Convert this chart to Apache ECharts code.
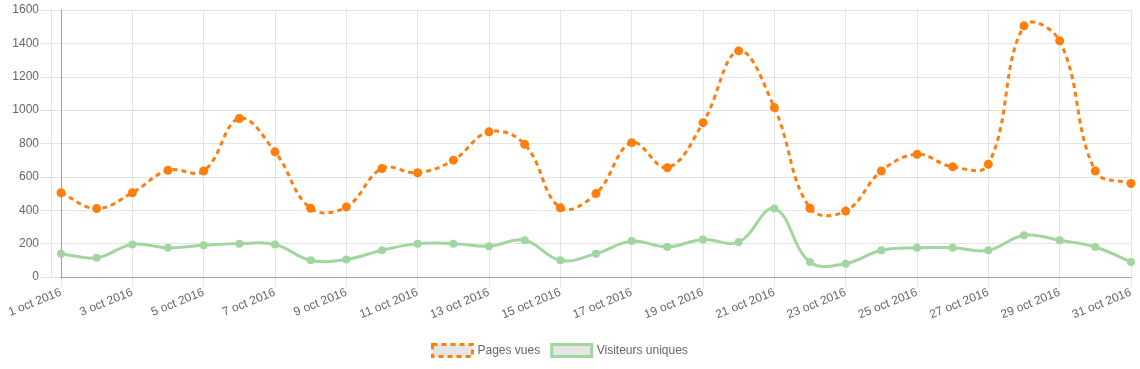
<!DOCTYPE html>
<html>
<head>
<meta charset="utf-8">
<script src="https://cdn.jsdelivr.net/npm/echarts@6/dist/echarts.min.js"></script>
<style>
html,body{margin:0;padding:0;background:#fff;}
#chart{width:1140px;height:369px;}
</style>
</head>
<body>
<div id="chart"></div>
<script>
const categories = [
  '1 oct 2016','2 oct 2016','3 oct 2016','4 oct 2016','5 oct 2016','6 oct 2016','7 oct 2016','8 oct 2016',
  '9 oct 2016','10 oct 2016','11 oct 2016','12 oct 2016','13 oct 2016','14 oct 2016','15 oct 2016','16 oct 2016',
  '17 oct 2016','18 oct 2016','19 oct 2016','20 oct 2016','21 oct 2016','22 oct 2016','23 oct 2016','24 oct 2016',
  '25 oct 2016','26 oct 2016','27 oct 2016','28 oct 2016','29 oct 2016','30 oct 2016','31 oct 2016'
];
const pagesVues = [505,410,505,640,635,950,750,412,420,650,625,700,870,795,415,500,805,655,925,1355,1015,412,395,635,735,660,675,1505,1415,635,560];
const visiteursUniques = [140,115,195,175,190,200,195,100,105,160,200,200,185,220,100,140,215,180,225,210,410,90,80,160,175,175,160,250,220,180,90];
const seriesNames = ['Pages vues','Visiteurs uniques'];
const yMin = 0, yMax = 1600, yStep = 200;

const ORANGE = '#ff7f0e';
const GREEN = '#a2d6a0';
const GRID = 'rgba(0,0,0,0.1)';
const FONT = 'Liberation Sans, Arial, Helvetica, sans-serif';
const TENSION = 0.4;

// Cardinal spline (tension 0.4) drawn through the axis-mapped points
function splineRenderer(values, color, width, dash) {
  return function (params, api) {
    if (params.dataIndex !== 0) return null;
    const pts = values.map((v, i) => api.coord([i, v]));
    const top = api.coord([0, yMax])[1], bottom = api.coord([0, yMin])[1];
    const cps = pts.map((p, i) => {
      const prev = pts[i - 1] || p, next = pts[i + 1] || p;
      const d01 = Math.hypot(p[0] - prev[0], p[1] - prev[1]);
      const d12 = Math.hypot(next[0] - p[0], next[1] - p[1]);
      let s01 = d01 / (d01 + d12), s12 = d12 / (d01 + d12);
      if (!isFinite(s01)) s01 = 0;
      if (!isFinite(s12)) s12 = 0;
      const fa = TENSION * s01, fb = TENSION * s12;
      const clampY = y => Math.max(top, Math.min(bottom, y));
      return {
        px: p[0] - fa * (next[0] - prev[0]), py: clampY(p[1] - fa * (next[1] - prev[1])),
        nx: p[0] + fb * (next[0] - prev[0]), ny: clampY(p[1] + fb * (next[1] - prev[1]))
      };
    });
    let d = 'M' + pts[0][0] + ',' + pts[0][1];
    for (let i = 1; i < pts.length; i++) {
      d += ' C' + cps[i - 1].nx + ',' + cps[i - 1].ny + ' ' + cps[i].px + ',' + cps[i].py + ' ' + pts[i][0] + ',' + pts[i][1];
    }
    return {
      type: 'path', silent: true,
      shape: { pathData: d },
      style: { fill: 'none', stroke: color, lineWidth: width, lineDash: dash, lineCap: 'butt' }
    };
  };
}

const chart = echarts.init(document.getElementById('chart'), null, {renderer:'canvas'});
chart.setOption({
  animation:false,
  backgroundColor:'#fff',
  grid:{left:61, right:9, top:10, bottom:92, containLabel:false},
  legend:{
    left:431, top:343, padding:0, itemGap:10, itemWidth:40, itemHeight:12, icon:'rect',
    textStyle:{color:'#666', fontSize:12, fontFamily:FONT},
    data:[
      {name:seriesNames[0], itemStyle:{color:'#e6e6e6', borderColor:ORANGE, borderWidth:3, borderType:[5,4]}},
      {name:seriesNames[1], itemStyle:{color:'#e6e6e6', borderColor:GREEN, borderWidth:3, borderType:'solid'}}
    ]
  },
  xAxis:{
    type:'category', data:categories, boundaryGap:false,
    axisLine:{show:true, lineStyle:{color:'rgba(0,0,0,0.3)', width:1}},
    axisTick:{show:true, interval:1, length:10, lineStyle:{color:GRID}},
    axisLabel:{interval:1, rotate:22, margin:15, color:'#666', fontSize:12, fontFamily:FONT},
    splitLine:{show:true, interval:1, lineStyle:{color:GRID}}
  },
  yAxis:[{
    type:'value', min:yMin, max:yMax, interval:yStep,
    axisLine:{show:true, lineStyle:{color:'rgba(0,0,0,0.3)'}},
    axisTick:{show:true, length:21, lineStyle:{color:GRID}},
    axisLabel:{margin:22, color:'#666', fontSize:12, fontFamily:FONT, formatter: v => String(v)},
    splitLine:{show:true, lineStyle:{color:GRID}}
  },{
    type:'value', position:'left', offset:10, min:yMin, max:yMax, interval:yStep,
    axisLine:{show:true, lineStyle:{color:GRID}},
    axisTick:{show:false}, axisLabel:{show:false}, splitLine:{show:false}
  }],
  series:[
    {
      name:seriesNames[0], type:'custom', clip:false, z:3,
      data: pagesVues.map((v, i) => [i, v]), encode:{x:0, y:1},
      renderItem: splineRenderer(pagesVues, ORANGE, 3, [5, 4])
    },
    {
      name:seriesNames[1], type:'custom', clip:false, z:2,
      data: visiteursUniques.map((v, i) => [i, v]), encode:{x:0, y:1},
      renderItem: splineRenderer(visiteursUniques, GREEN, 3, null)
    },
    {
      name:seriesNames[0], type:'line', data:pagesVues,
      symbol:'circle', symbolSize:9, showSymbol:true, z:4,
      lineStyle:{opacity:0}, itemStyle:{color:ORANGE}, emphasis:{disabled:true}
    },
    {
      name:seriesNames[1], type:'line', data:visiteursUniques,
      symbol:'circle', symbolSize:8, showSymbol:true, z:4,
      lineStyle:{opacity:0}, itemStyle:{color:GREEN}, emphasis:{disabled:true}
    }
  ]
});
</script>
</body>
</html>
